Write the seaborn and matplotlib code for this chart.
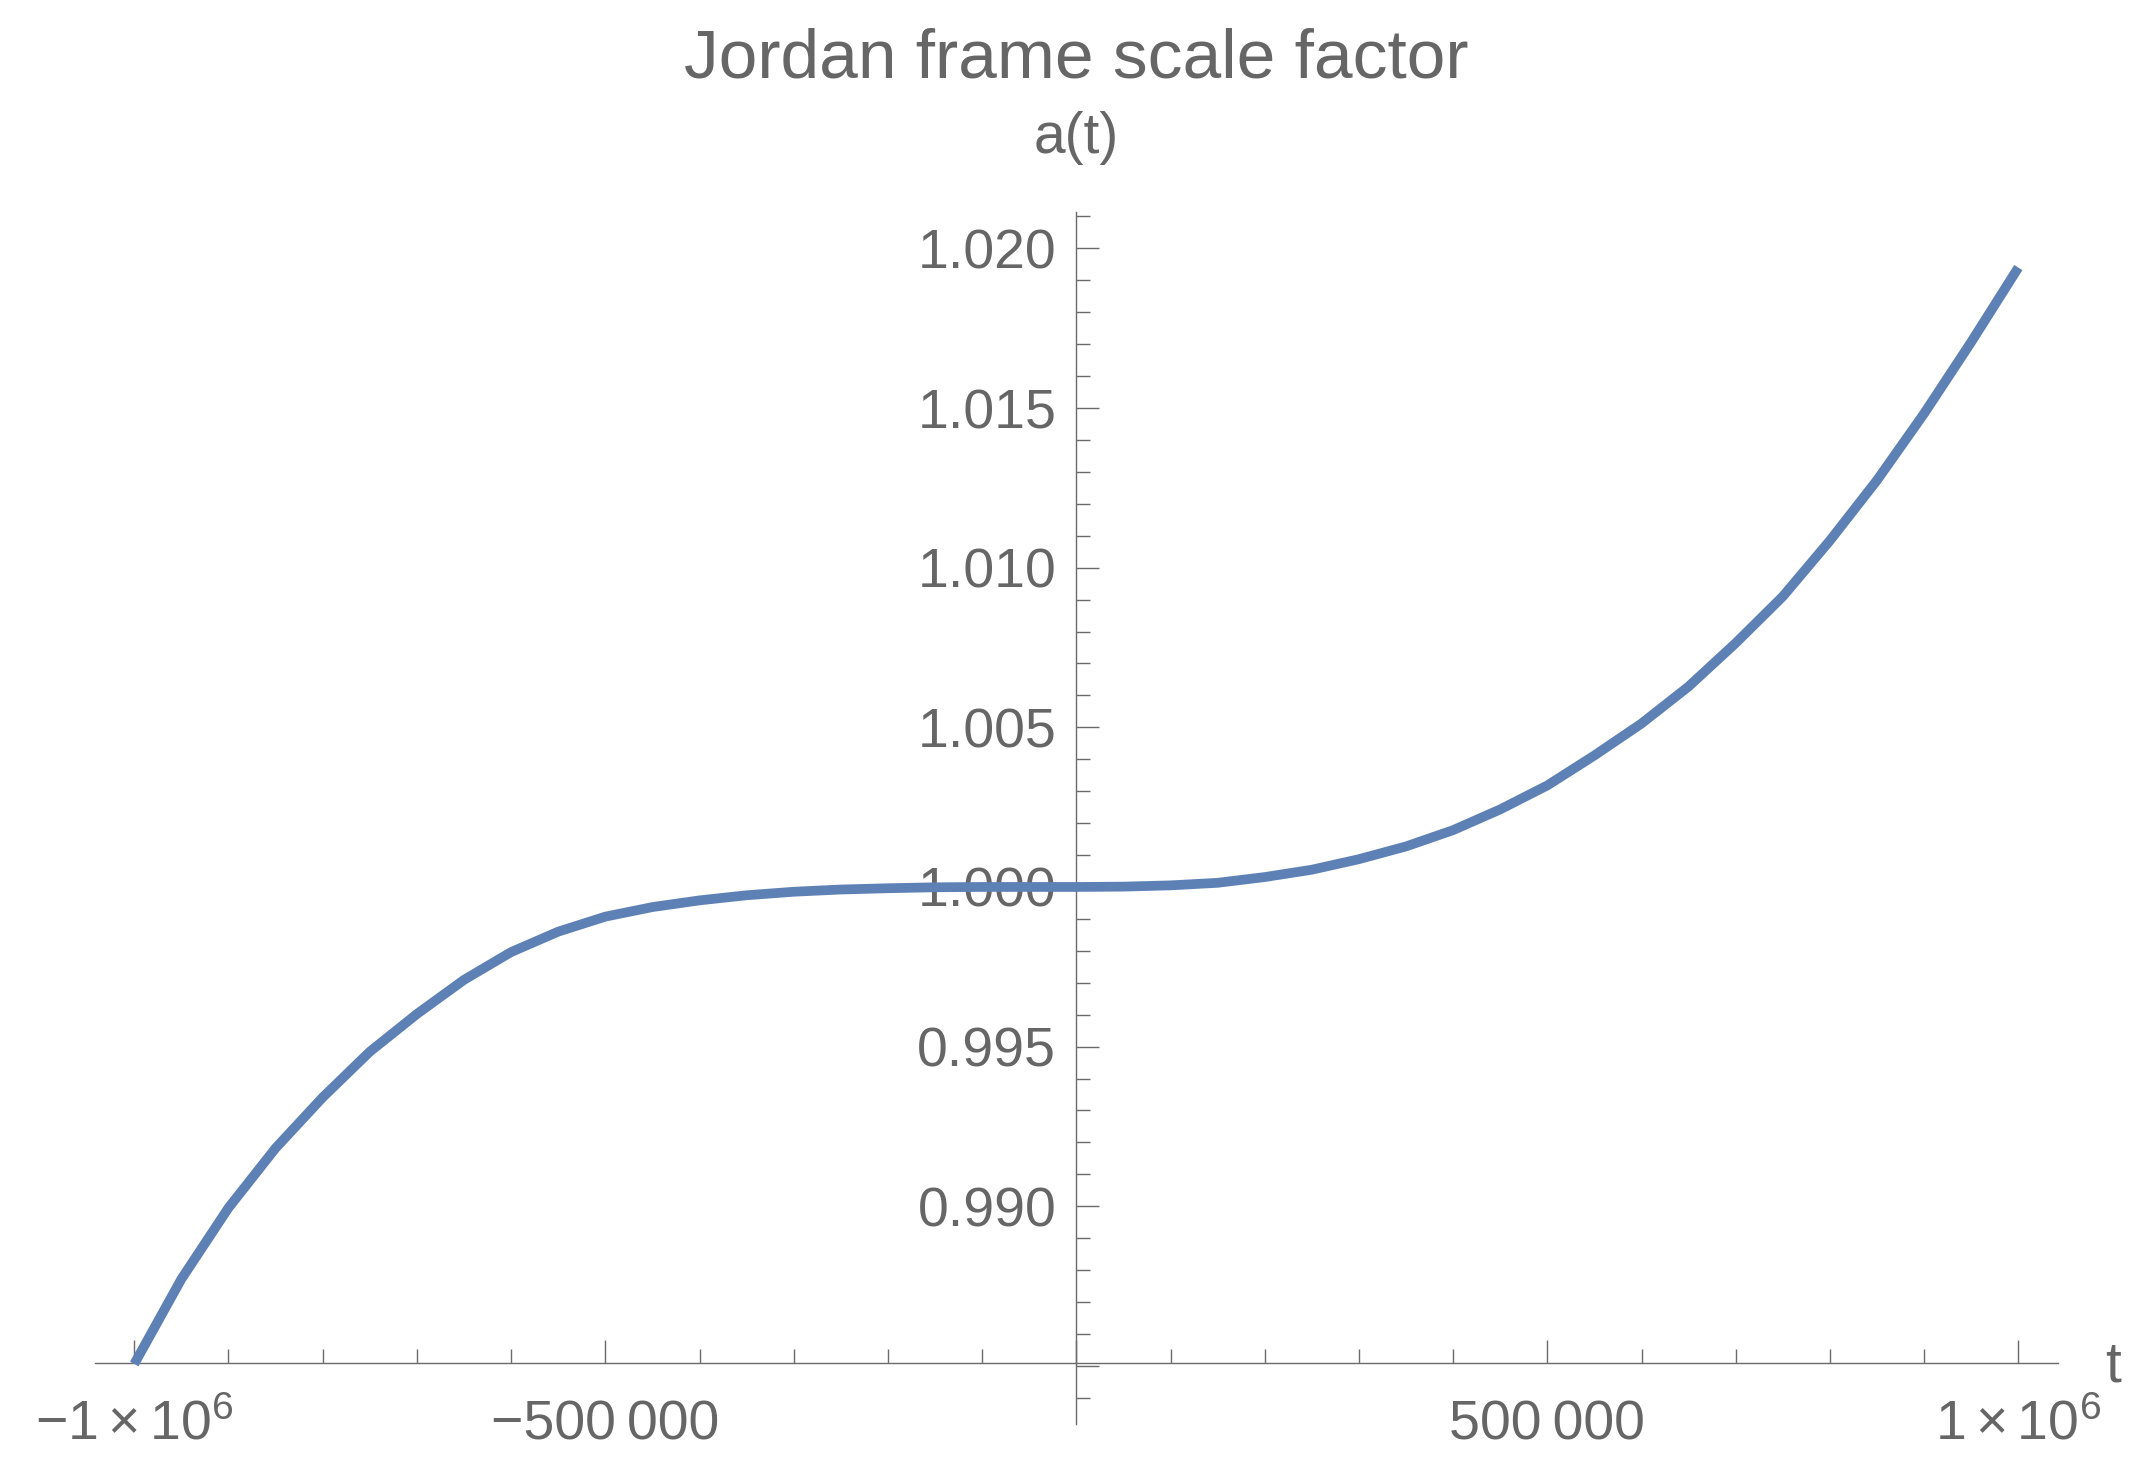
import matplotlib
matplotlib.use("Agg")
import matplotlib.pyplot as plt
from matplotlib.ticker import FixedLocator, FixedFormatter, MultipleLocator
import seaborn as sns
import pandas as pd

# ---- data ----
t_values = [-1.00e6, -0.95e6, -0.90e6, -0.85e6, -0.80e6, -0.75e6, -0.70e6,
            -0.65e6, -0.60e6, -0.55e6, -0.50e6, -0.45e6, -0.40e6, -0.35e6,
            -0.30e6, -0.25e6, -0.20e6, -0.15e6, -0.10e6, -0.05e6, 0.0,
            0.05e6, 0.10e6, 0.15e6, 0.20e6, 0.25e6, 0.30e6, 0.35e6, 0.40e6,
            0.45e6, 0.50e6, 0.55e6, 0.60e6, 0.65e6, 0.70e6, 0.75e6, 0.80e6,
            0.85e6, 0.90e6, 0.95e6, 1.00e6]
a_values = [0.98506, 0.98772, 0.98995, 0.99182, 0.99341, 0.99484, 0.99602,
            0.99709, 0.99796, 0.99860, 0.99907, 0.99937, 0.99958, 0.99974,
            0.99985, 0.99992, 0.99996, 0.99999, 1.00000, 1.00000, 1.00000,
            1.00001, 1.00005, 1.00013, 1.00031, 1.00054, 1.00087, 1.00127,
            1.00178, 1.00243, 1.00318, 1.00412, 1.00512, 1.00628, 1.00764,
            1.00910, 1.01085, 1.01274, 1.01483, 1.01707, 1.01940]

x_major_ticks = [-1e6, -5e5, 0, 5e5, 1e6]
x_tick_labels = [r"$-1\times10^{6}$", "\u2212500\u2009000", "", "500\u2009000", r"$1\times10^{6}$"]
y_major_ticks = [0.985, 0.990, 0.995, 1.000, 1.005, 1.010, 1.015, 1.020]
y_tick_labels = ["", "0.990", "0.995", "1.000", "1.005", "1.010", "1.015", "1.020"]

title_text = "Jordan frame scale factor"
y_label_text = "a(t)"
x_label_text = "t"

# ---- style ----
sns.set_theme(style="white")
plt.rcParams["font.family"] = ["Liberation Sans", "DejaVu Sans"]
plt.rcParams["mathtext.fontset"] = "custom"
plt.rcParams["mathtext.rm"] = "Liberation Sans"
plt.rcParams["mathtext.it"] = "Liberation Sans:italic"
plt.rcParams["mathtext.bf"] = "Liberation Sans:bold"
plt.rcParams["mathtext.default"] = "regular"

TXT = "#666666"
AX = "#6a6a6a"
LINE = "#5E81B5"

W, H = 2148, 1482
fig = plt.figure(figsize=(W / 100, H / 100), dpi=100)
fig.patch.set_facecolor("white")

left_px, right_px, top_px, bot_px = 95, 2058, 211.7, 1424.3
ax = fig.add_axes([left_px / W, 1 - bot_px / H, (right_px - left_px) / W, (bot_px - top_px) / H])
ax.set_facecolor("none")

df = pd.DataFrame({"t": t_values, "a": a_values})
sns.lineplot(data=df, x="t", y="a", ax=ax, color=LINE, linewidth=7.0,
             legend=False, zorder=3, solid_capstyle="butt", solid_joinstyle="round")

ax.set_xlim(-1.0417e6, 1.0421e6)
ax.set_ylim(0.98317, 1.02115)
ax.set_xlabel("")
ax.set_ylabel("")

for s in ["top", "right"]:
    ax.spines[s].set_visible(False)
ax.spines["left"].set_position(("data", 0))
ax.spines["bottom"].set_position(("data", 0.98508))
for s in ["left", "bottom"]:
    ax.spines[s].set_color(AX)
    ax.spines[s].set_linewidth(1.0)

ax.xaxis.set_major_locator(FixedLocator(x_major_ticks))
ax.xaxis.set_major_formatter(FixedFormatter(x_tick_labels))
ax.xaxis.set_minor_locator(MultipleLocator(1e5))
ax.yaxis.set_major_locator(FixedLocator(y_major_ticks))
ax.yaxis.set_major_formatter(FixedFormatter(y_tick_labels))
ax.yaxis.set_minor_locator(MultipleLocator(0.001))

ax.tick_params(axis="both", which="both", direction="in", color=AX, width=1.0,
               labelcolor=TXT, labelsize=40, bottom=True, left=True,
               top=False, right=False)
ax.tick_params(axis="both", which="major", length=16.5)
ax.tick_params(axis="both", which="minor", length=10)
ax.tick_params(axis="y", which="major", pad=14.4)
ax.tick_params(axis="x", which="major", pad=55)
for lab in ax.get_xticklabels():
    lab.set_verticalalignment("baseline")

fig.text(1076.5 / W, 1 - 77.3 / H, title_text, ha="center", va="baseline",
         fontsize=50, color=TXT)
fig.text(1076.5 / W, 1 - 153 / H, y_label_text, ha="center", va="baseline",
         fontsize=41, color=TXT)
fig.text(2105 / W, 1 - 1382 / H, x_label_text, ha="left", va="baseline",
         fontsize=41, color=TXT)

fig.savefig("out.png", dpi=100, facecolor="white")
